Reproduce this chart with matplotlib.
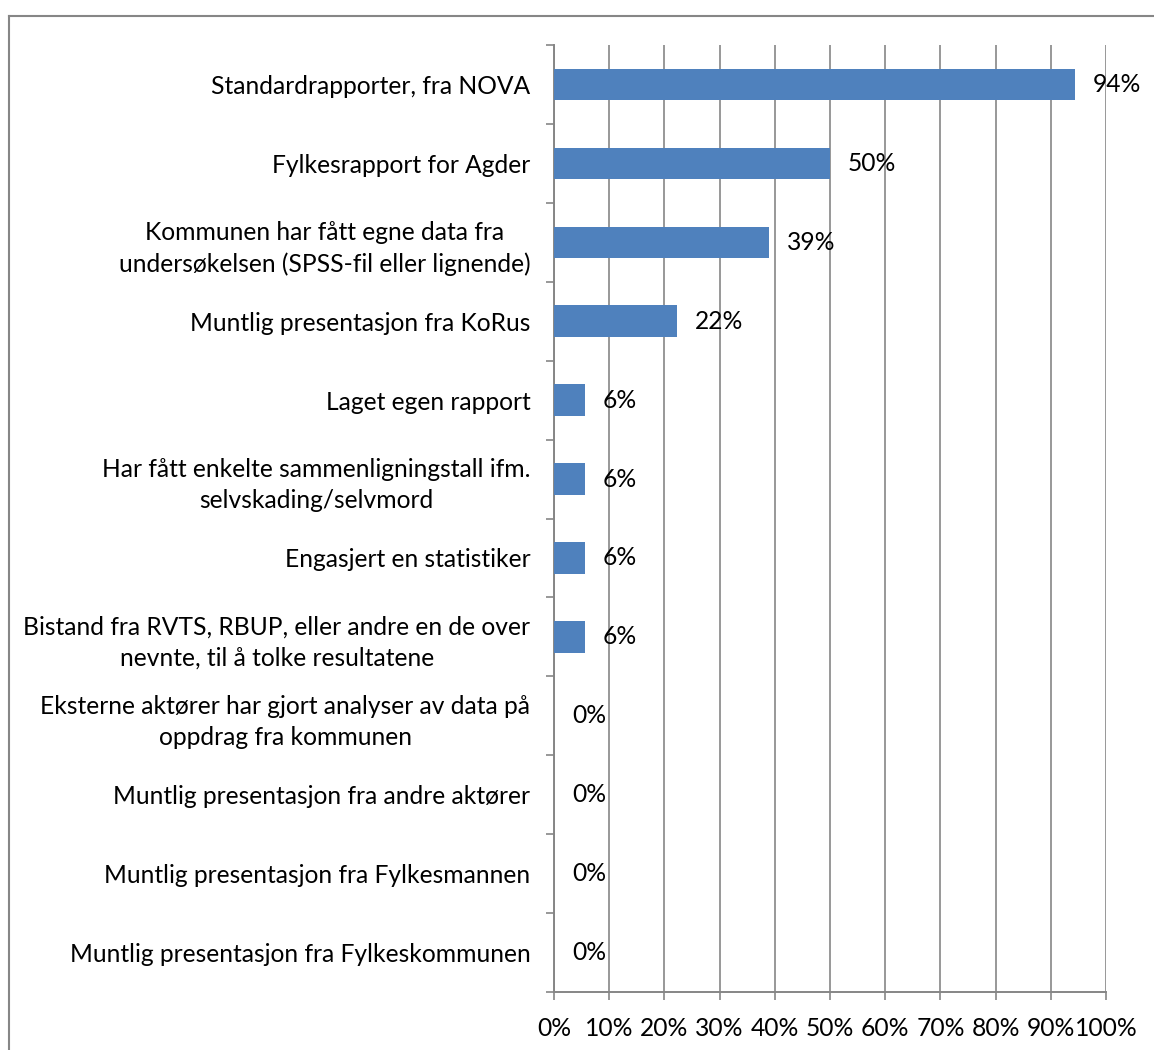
#!/usr/bin/env python3
"""Horizontal bar chart: which reports/analyses the municipality has used."""

import matplotlib
matplotlib.use("Agg")
import matplotlib.pyplot as plt
from matplotlib.lines import Line2D
from matplotlib.ticker import FixedLocator, PercentFormatter

CATEGORIES = [
    "Standardrapporter, fra NOVA",
    "Fylkesrapport for Agder",
    "Kommunen har fått egne data fra\nundersøkelsen (SPSS-fil eller lignende)",
    "Muntlig presentasjon fra KoRus",
    "Laget egen rapport",
    "Har fått enkelte sammenligningstall ifm.\nselvskading/selvmord",
    "Engasjert en statistiker",
    "Bistand fra RVTS, RBUP, eller andre en de over\nnevnte, til å tolke resultatene",
    "Eksterne aktører har gjort analyser av data på\noppdrag fra kommunen",
    "Muntlig presentasjon fra andre aktører",
    "Muntlig presentasjon fra Fylkesmannen",
    "Muntlig presentasjon fra Fylkeskommunen",
]
VALUES = [94.4, 50.0, 38.9, 22.2, 5.6, 5.6, 5.6, 5.6, 0.0, 0.0, 0.0, 0.0]
X_TICKS = [0, 10, 20, 30, 40, 50, 60, 70, 80, 90, 100]

BAR_COLOR = "#4F81BD"
GRID_COLOR = "#868686"
FONT = ["Lato", "DejaVu Sans"]
FS = 17.7

plt.rcParams["font.family"] = FONT

fig = plt.figure(figsize=(11.54, 10.5), dpi=100)
ax = fig.add_axes([554 / 1154, 1 - 992 / 1050, (1106 - 554) / 1154, (992 - 45) / 1050])

n = len(CATEGORIES)
pos = list(range(n))
ax.barh(pos, VALUES, height=0.4, color=BAR_COLOR, zorder=3)

for y, v in zip(pos, VALUES):
    ax.annotate(f"{v:.0f}%", xy=(v, y), xytext=(13, 0), textcoords="offset points",
                ha="left", va="center", fontsize=FS, color="black", zorder=4)

ax.set_xlim(0, 100)
ax.set_ylim(n - 0.5, -0.5)
ax.xaxis.set_major_locator(FixedLocator(X_TICKS))
ax.xaxis.set_major_formatter(PercentFormatter(decimals=0))
ax.set_yticks(pos)
ax.set_yticklabels(CATEGORIES, multialignment="center", linespacing=1.42)
ax.yaxis.set_minor_locator(FixedLocator([i - 0.5 for i in range(n + 1)]))

ax.tick_params(axis="y", which="major", length=0, pad=17, labelsize=FS)
ax.tick_params(axis="y", which="minor", length=6, width=1.2, color=GRID_COLOR, direction="out")
ax.tick_params(axis="x", which="major", length=6, width=1.2, color=GRID_COLOR,
               direction="out", pad=12, labelsize=FS)

ax.grid(axis="x", color=GRID_COLOR, linewidth=1.2, zorder=0)
ax.set_axisbelow(True)
for side in ("top", "right"):
    ax.spines[side].set_visible(False)
for side in ("left", "bottom"):
    ax.spines[side].set_color(GRID_COLOR)
    ax.spines[side].set_linewidth(1.4)

# chart-area frame, cut by the image edge at right and bottom
bx, by = 9 / 1154, 1 - 16 / 1050
fig.add_artist(Line2D([bx, bx], [0, by], color=GRID_COLOR, linewidth=1.5))
fig.add_artist(Line2D([bx, 1], [by, by], color=GRID_COLOR, linewidth=1.5))

fig.savefig("out.png", dpi=100)
